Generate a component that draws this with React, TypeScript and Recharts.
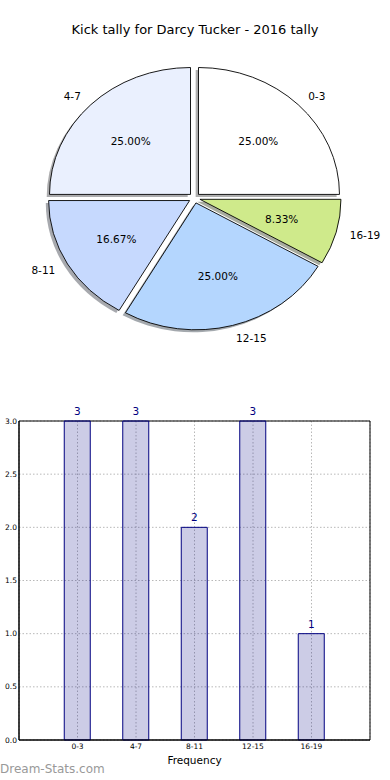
import React from 'react';
import {
  PieChart,
  Pie,
  BarChart,
  Bar,
  XAxis,
  YAxis,
  CartesianGrid,
  LabelList,
  ReferenceArea,
} from 'recharts';

const categories = ['0-3', '4-7', '8-11', '12-15', '16-19'];
const counts = [3, 3, 2, 3, 1];
const sliceColors = ['#ffffff', '#eaf0fe', '#c6d9fe', '#b4d6fe', '#cfea8b'];
const yTicks = [0, 0.5, 1, 1.5, 2, 2.5, 3];

const pieData = categories.map((category, i) => ({ category, count: counts[i] }));
const barData = categories.map((category, i) => ({ category, count: counts[i], pos: i + 1 }));

const FONT = '"DejaVu Sans", sans-serif';
const NAVY = '#000080';
const SQUASH = 0.9; // original pie sits on a non-square axes, so it's an ellipse
const EXPLODE = 0.04;
const RAD = Math.PI / 180;

function darken(hex: string) {
  const n = parseInt(hex.slice(1), 16);
  const r = Math.round(((n >> 16) & 255) * 0.3);
  const g = Math.round(((n >> 8) & 255) * 0.3);
  const b = Math.round((n & 255) * 0.3);
  return `rgb(${r},${g},${b})`;
}

function wedgePath(cx: number, cy: number, rx: number, ry: number, a0: number, a1: number) {
  const x0 = cx + rx * Math.cos(a0 * RAD);
  const y0 = cy - ry * Math.sin(a0 * RAD);
  const x1 = cx + rx * Math.cos(a1 * RAD);
  const y1 = cy - ry * Math.sin(a1 * RAD);
  const large = Math.abs(a1 - a0) > 180 ? 1 : 0;
  return `M${cx},${cy}L${x0},${y0}A${rx},${ry} 0 ${large} 0 ${x1},${y1}Z`;
}

// exploded, shadowed elliptical wedge plus its two labels
function renderWedge(props: any) {
  const { cx, cy, outerRadius, startAngle, endAngle, midAngle, percent, index } = props;
  const rx = outerRadius;
  const ry = outerRadius * SQUASH;
  const cos = Math.cos(midAngle * RAD);
  const sin = Math.sin(midAngle * RAD);
  const ox = cx + EXPLODE * rx * cos;
  const oy = cy - EXPLODE * ry * sin;
  const fill = sliceColors[index];
  const shade = darken(fill);

  return (
    <g key={`wedge-${index}`}>
      <path
        d={wedgePath(ox - 0.02 * rx, oy + 0.02 * ry, rx, ry, startAngle, endAngle)}
        fill={shade}
        fillOpacity={0.45}
        stroke="none"
      />
      <path
        d={wedgePath(ox, oy, rx, ry, startAngle, endAngle)}
        fill={fill}
        stroke="#000"
        strokeWidth={0.9}
      />
      <text
        x={ox + 0.6 * rx * cos}
        y={oy - 0.6 * ry * sin}
        textAnchor="middle"
        dominantBaseline="central"
        fontFamily={FONT}
        fontSize={10.5}
        fill="#000"
      >
        {(percent * 100).toFixed(2)}%
      </text>
      <text
        x={ox + 1.1 * rx * cos}
        y={oy - 1.1 * ry * sin}
        textAnchor={cos > 0 ? 'start' : 'end'}
        dominantBaseline="central"
        fontFamily={FONT}
        fontSize={10.5}
        fill="#000"
      >
        {categories[index]}
      </text>
    </g>
  );
}

export default function App() {
  return (
    <div
      style={{
        position: 'absolute',
        left: 0,
        top: 0,
        width: 390,
        height: 780,
        background: '#fff',
        fontFamily: FONT,
      }}
    >
      <div
        style={{
          position: 'absolute',
          top: 22,
          left: 0,
          width: 390,
          textAlign: 'center',
          fontSize: 13,
          lineHeight: '16px',
          color: '#000',
        }}
      >
        Kick tally for Darcy Tucker - 2016 tally
      </div>

      <div style={{ position: 'absolute', top: 0, left: 0 }}>
        <PieChart width={390} height={370} margin={{ top: 0, right: 0, bottom: 0, left: 0 }}>
          <Pie
            data={pieData}
            dataKey="count"
            nameKey="category"
            cx={194.5}
            cy={198}
            outerRadius={141}
            startAngle={0}
            endAngle={360}
            fill="none"
            stroke="none"
            labelLine={false}
            label={renderWedge}
            isAnimationActive={false}
          />
        </PieChart>
      </div>

      <div style={{ position: 'absolute', top: 400, left: 0 }}>
        <BarChart
          width={390}
          height={380}
          data={barData}
          margin={{ top: 21, right: 20, left: 0, bottom: 14 }}
        >
          <CartesianGrid stroke="#b8b8b8" strokeDasharray="1.5 2" />
          <XAxis
            type="number"
            dataKey="pos"
            domain={[0, 6]}
            ticks={[1, 2, 3, 4, 5]}
            tickFormatter={(v: number) => categories[v - 1]}
            interval={0}
            height={26}
            tickSize={3}
            tickMargin={1}
            tickLine={false}
            axisLine={{ stroke: '#000' }}
            tick={{ fontSize: 7.5, fill: '#000', fontFamily: FONT }}
            label={{
              value: 'Frequency',
              position: 'insideBottom',
              offset: 2,
              fontSize: 10.5,
              fill: '#000',
              fontFamily: FONT,
            }}
          />
          <YAxis
            type="number"
            domain={[0, 3]}
            ticks={yTicks}
            tickFormatter={(v: number) => v.toFixed(1)}
            width={19}
            tickSize={0}
            tickMargin={2}
            tickLine={false}
            axisLine={{ stroke: '#000' }}
            tick={{ fontSize: 7.5, fill: '#000', fontFamily: FONT }}
          />
          <ReferenceArea x1={0} x2={6} y1={0} y2={3} fill="none" stroke="#000" strokeWidth={1} />
          <Bar
            dataKey="count"
            barSize={26}
            fill={NAVY}
            fillOpacity={0.2}
            stroke={NAVY}
            strokeWidth={1}
            isAnimationActive={false}
          >
            <LabelList
              dataKey="count"
              position="top"
              offset={6}
              fill={NAVY}
              fontSize={10.5}
              fontFamily={FONT}
            />
          </Bar>
        </BarChart>
      </div>

      <div
        style={{
          position: 'absolute',
          left: 0,
          top: 762,
          fontSize: 12,
          lineHeight: '14px',
          color: '#999',
        }}
      >
        Dream-Stats.com
      </div>
    </div>
  );
}
